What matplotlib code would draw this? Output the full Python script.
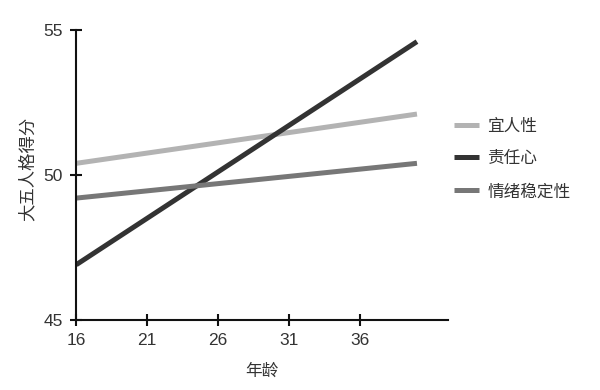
import matplotlib
matplotlib.use("Agg")
import matplotlib.pyplot as plt

plt.rcParams["font.family"] = ["Liberation Sans", "Noto Sans CJK SC", "DejaVu Sans"]

# data
ages = [16, 40]
agreeableness = [50.4, 52.1]
conscientiousness = [46.9, 54.6]
emotional_stability = [49.2, 50.4]
series_names = ["宜人性", "责任心", "情绪稳定性"]
x_ticks = [16, 21, 26, 31, 36]
y_ticks = [45, 50, 55]

fig = plt.figure(figsize=(6, 3.9), dpi=100)
ax = fig.add_axes([0.127, 0.18, 0.62, 0.743])

ax.plot(ages, agreeableness, color="#b3b3b3", lw=3.6, label=series_names[0], solid_capstyle="butt")
ax.plot(ages, conscientiousness, color="#333333", lw=3.6, label=series_names[1], solid_capstyle="butt")
ax.plot(ages, emotional_stability, color="#777777", lw=3.6, label=series_names[2], solid_capstyle="butt")

ax.set_xlim(16, 42.2)
ax.set_ylim(45, 55)
ax.set_xticks(x_ticks)
ax.set_yticks(y_ticks)
for s in ["top", "right"]:
    ax.spines[s].set_visible(False)
for s in ["left", "bottom"]:
    ax.spines[s].set_linewidth(1.5)
    ax.spines[s].set_color("#111111")
ax.tick_params(direction="inout", length=9, width=1.5, color="#111111",
               labelsize=12.5, labelcolor="#333333", pad=5)

ax.set_xlabel("年龄", fontsize=12, color="#333333", labelpad=11)
ax.set_ylabel("大五人格得分", fontsize=12.5, color="#333333")
ax.yaxis.set_label_coords(-0.11, 0.52)

fig.legend(loc="upper left", bbox_to_anchor=(0.732, 0.735), frameon=False,
           fontsize=12, handlelength=1.5, handletextpad=0.5, labelspacing=1.05,
           labelcolor="#333333")

fig.savefig("out.png", dpi=100, facecolor="white")
